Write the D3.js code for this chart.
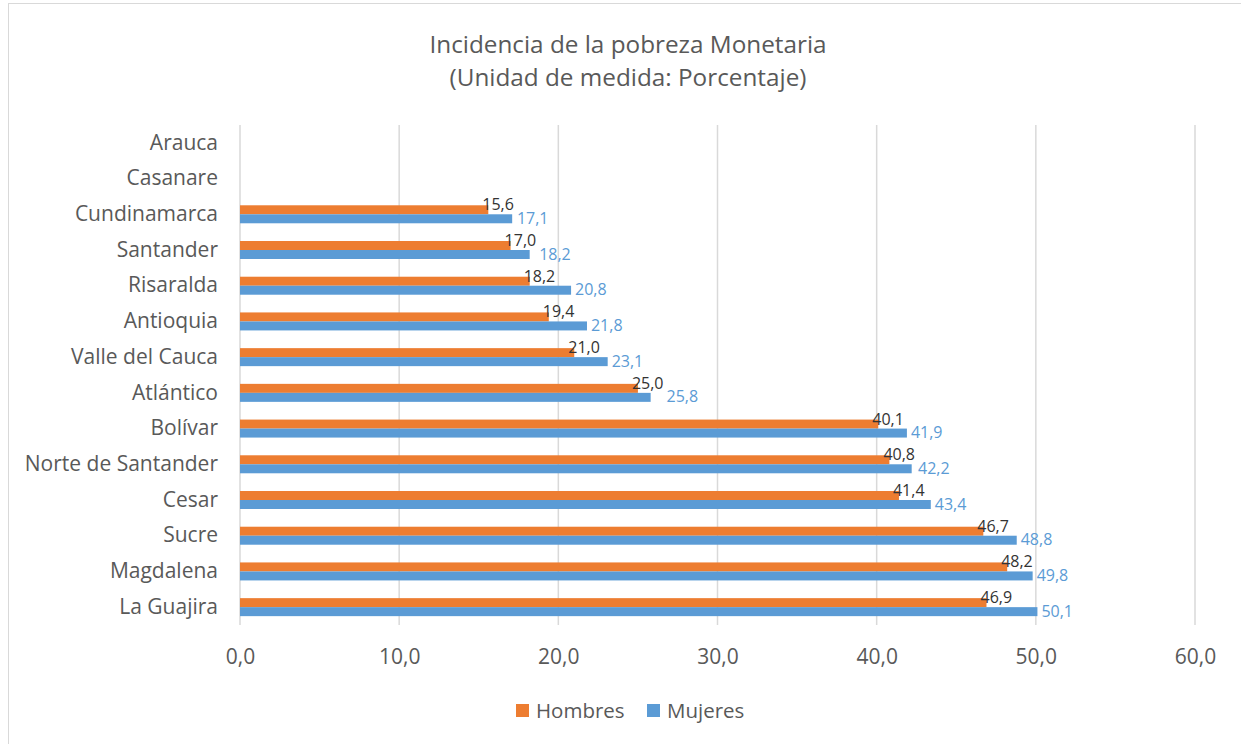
<!DOCTYPE html>
<html><head><meta charset="utf-8">
<script src="https://cdn.jsdelivr.net/npm/d3@7/dist/d3.min.js"></script>
<style>body{margin:0;background:#fff;} svg{display:block;font-family:"Open Sans",sans-serif;}</style>
</head><body>
<svg id="c" width="1241" height="744"></svg>
<script>
const categories = ["Arauca","Casanare","Cundinamarca","Santander","Risaralda","Antioquia","Valle del Cauca","Atlántico","Bolívar","Norte de Santander","Cesar","Sucre","Magdalena","La Guajira"];
const hombres = [null,null,15.6,17.0,18.2,19.4,21.0,25.0,40.1,40.8,41.4,46.7,48.2,46.9];
const mujeres = [null,null,17.1,18.2,20.8,21.8,23.1,25.8,41.9,42.2,43.4,48.8,49.8,50.1];
const ticks = [0,10,20,30,40,50,60];
const seriesNames = ["Hombres","Mujeres"];
const colors = ["#ED7D31","#5B9BD5"];
const labelColors = ["#333333","#5B9BD5"];
const titleLines = ["Incidencia de la pobreza Monetaria","(Unidad de medida: Porcentaje)"];

const svg = d3.select("#c");
const fmt = v => v.toFixed(1).replace(".", ",");
const FONT = "'Open Sans', sans-serif";

// outer border
svg.append("rect").attr("x",8.5).attr("y",3.5).attr("width",1240).attr("height",745)
  .attr("fill","none").attr("stroke","#d9d9d9").attr("stroke-width",1);

const x = d3.scaleLinear().domain([0,60]).range([240,1195]);
const y = d3.scaleBand().domain(categories).range([125,625]);
const inner = d3.scaleBand().domain(seriesNames).range([0,18]);
const barOff = (y.bandwidth()-18)/2;

// title
svg.append("g").selectAll("text").data(titleLines).join("text")
  .attr("x",628).attr("y",(d,i)=>53+i*33).attr("text-anchor","middle")
  .attr("font-size",24.3).attr("fill","#595959").text(d=>d);

// grid
svg.append("g").selectAll("line").data(ticks).join("line")
  .attr("x1",d=>x(d)).attr("x2",d=>x(d)).attr("y1",125).attr("y2",625)
  .attr("stroke","#d9d9d9").attr("stroke-width",1.5);

// x axis
const xa = svg.append("g").attr("transform","translate(0,625)")
  .call(d3.axisBottom(x).tickValues(ticks).tickFormat(fmt).tickSize(0).tickPadding(24));
xa.select(".domain").remove();
xa.selectAll("text").attr("font-size",21).attr("fill","#595959").attr("font-family",FONT);

// y axis
const ya = svg.append("g").attr("transform","translate(240,0)")
  .call(d3.axisLeft(y).tickSize(0).tickPadding(22));
ya.select(".domain").remove();
ya.selectAll("text").attr("font-size",21).attr("fill","#595959").attr("font-family",FONT);

// bars
const seriesData = [hombres, mujeres];
seriesData.forEach((vals, si) => {
  const name = seriesNames[si];
  const pts = categories.map((c,i)=>({c, v: vals[i]})).filter(d=>d.v!=null);
  svg.append("g").selectAll("rect").data(pts).join("rect")
    .attr("x",x(0)).attr("y",d=>y(d.c)+barOff+inner(name))
    .attr("width",d=>x(d.v)-x(0)).attr("height",inner.bandwidth())
    .attr("fill",colors[si]);
});

// data labels
const lblG = svg.append("g").attr("font-size",16);
categories.forEach((c,i)=>{
  const h = hombres[i], m = mujeres[i];
  if (h==null || m==null) return;
  const top = y(c)+barOff;
  const th = lblG.append("text").attr("x",x(h)-6).attr("y",top+inner("Hombres")+5)
    .attr("fill",labelColors[0]).text(fmt(h));
  const hEnd = x(h)-6 + th.node().getComputedTextLength();
  lblG.append("text").attr("x",Math.max(x(m)+4, hEnd+3)).attr("y",top+inner("Mujeres")+9.5)
    .attr("fill",labelColors[1]).text(fmt(m));
});

// legend
const lg = svg.append("g").attr("transform","translate(516,704)");
seriesNames.forEach((n,i)=>{
  const g = lg.append("g").attr("transform",`translate(${i*131},0)`);
  g.append("rect").attr("width",13).attr("height",13).attr("fill",colors[i]);
  g.append("text").attr("x",20).attr("y",14).attr("font-size",20.5).attr("fill","#595959").text(n);
});
</script>
</body></html>
